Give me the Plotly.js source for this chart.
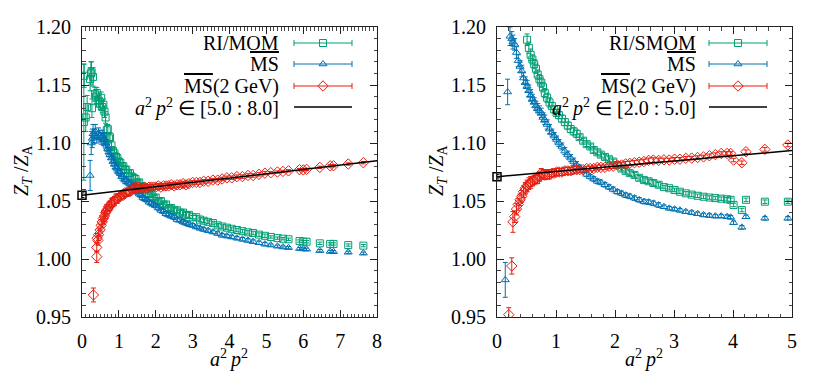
<!DOCTYPE html>
<html>
<head>
<meta charset="utf-8">
<script src="https://cdn.plot.ly/plotly-3.0.1.min.js"></script>
<style>html,body{margin:0;padding:0;background:#fff;}#chart{width:830px;height:375px;}</style>
</head>
<body>
<div id="chart"></div>
<script>
// ---------------- Left panel (RI/MOM) ----------------
const LX = [0.45,0.49,0.52,0.55,0.58,0.61,0.64,0.67,
  0.70,0.73,0.76,0.80,0.84,0.88,0.92,0.96,
  1.00,1.04,1.08,1.12,1.16,1.20,1.25,1.30,1.35,1.40,1.45,
  1.50,1.55,1.60,1.65,1.70,1.76,1.82,1.88,1.94,2.00,2.07,2.14,2.21,2.28,2.35,2.42,2.50,2.58,2.66,2.74,2.82,2.90,
  3.00,3.10,3.20,3.30,3.42,3.55,3.68,3.80,3.93,4.06,4.20,4.35,4.50,4.64,4.80,4.96,
  5.12,5.30,5.45,5.60,5.90,6.00,6.09,6.45,6.73,6.82,7.22,7.63];
const LG = [1.136,1.134,1.139,1.131,1.133,1.127,1.122,1.111,
  1.112,1.104,1.105,1.098,1.093,1.091,1.088,1.087,
  1.084,1.083,1.080,1.080,1.077,1.077,1.074,1.074,1.071,1.070,1.069,
  1.066,1.066,1.063,1.062,1.060,1.059,1.056,1.056,1.053,1.053,1.050,1.050,1.047,1.047,1.044,1.044,1.042,1.042,1.040,1.040,1.038,1.038,
  1.036,1.036,1.034,1.033,1.032,1.031,1.029,1.028,1.027,1.026,1.025,1.024,1.023,1.0224,1.021,1.020,
  1.019,1.018,1.0175,1.017,1.0155,1.015,1.0149,1.0135,1.013,1.013,1.012,1.0115];
const LB = [1.108,1.106,1.104,1.106,1.103,1.104,1.100,1.098,
  1.095,1.092,1.090,1.087,1.084,1.082,1.079,1.078,
  1.075,1.074,1.071,1.071,1.068,1.068,1.066,1.065,1.063,1.062,1.059,
  1.058,1.056,1.055,1.053,1.052,1.051,1.049,1.048,1.047,1.046,1.044,1.042,1.041,1.039,1.038,1.037,1.036,1.034,1.0336,1.032,1.031,1.030,
  1.029,1.0276,1.0265,1.0255,1.0245,1.0233,1.022,1.0205,1.0198,1.019,1.018,1.017,1.016,1.015,1.014,1.0128,
  1.012,1.011,1.0103,1.0098,1.0090,1.0087,1.0084,1.0072,1.0065,1.0063,1.0058,1.005];
const LR = [1.021,1.025,1.029,1.032,1.035,1.037,1.040,1.042,
  1.043,1.045,1.046,1.048,1.049,1.050,1.052,1.052,
  1.053,1.054,1.055,1.055,1.057,1.057,1.058,1.058,1.060,1.061,1.062,
  1.061,1.062,1.061,1.061,1.062,1.061,1.062,1.062,1.062,1.062,1.063,1.062,1.063,1.063,1.063,1.064,1.063,1.064,1.064,1.065,1.064,1.065,
  1.066,1.066,1.066,1.067,1.067,1.068,1.068,1.069,1.070,1.070,1.071,1.071,1.072,1.072,1.073,1.074,
  1.0744,1.075,1.0755,1.076,1.077,1.0768,1.0773,1.079,1.0803,1.0804,1.0819,1.083];
const LE = [0.005,0.005,0.005,0.005,0.005,0.005,0.005,0.005,
  0.004,0.004,0.004,0.004,0.004,0.004,0.004,0.004,
  0.003,0.003,0.003,0.003,0.003,0.003,0.003,0.003,0.003,0.003,0.003,
  0.002,0.002,0.002,0.002,0.002,0.002,0.002,0.002,0.002,0.002,0.002,0.002,0.002,0.002,0.002,0.002,0.002,0.002,0.002,0.002,0.002,0.002,
  0.0015,0.0015,0.0015,0.0015,0.0015,0.0015,0.0015,0.0015,0.0015,0.0015,0.0015,0.0015,0.0015,0.0015,0.0015,0.0015,
  0.001,0.001,0.001,0.001,0.001,0.001,0.001,0.001,0.001,0.001,0.001,0.001];
// low-momentum points of the left panel
const LG0X = [0.05,0.06,0.10,0.14,0.22,0.24,0.26,0.27,0.30,0.35,0.38,0.40];
const LG0Y = [1.118,1.158,1.122,1.131,1.155,1.160,1.161,1.130,1.157,1.142,1.140,1.143];
const LG0E = [0.050,0.010,0.012,0.010,0.010,0.010,0.009,0.008,0.008,0.006,0.006,0.005];
const LB0X = [0.22,0.25,0.28,0.30,0.33,0.36,0.40];
const LB0Y = [1.072,1.100,1.104,1.108,1.106,1.110,1.105];
const LB0E = [0.013,0.010,0.008,0.008,0.006,0.006,0.005];
const LR0X = [0.31,0.40,0.40,0.41,0.43];
const LR0Y = [0.969,1.002,1.010,1.018,1.016];
const LR0E = [0.006,0.005,0.004,0.004,0.004];
// fit (left)
const LFITX = [0, 8];
const LFITY = [1.055, 1.0846];
const LFIT0 = 1.055, LFIT0E = 0.002;

// ---------------- Right panel (RI/SMOM) ----------------
const RX = [0.30,0.33,0.36,0.39,0.42,0.45,0.48,0.51,0.54,0.57,
  0.60,0.63,0.66,0.69,0.72,0.75,0.78,0.81,0.85,0.89,
  0.93,0.97,1.01,1.05,1.10,1.15,1.20,1.25,1.30,1.35,
  1.40,1.46,1.52,1.58,1.64,1.70,1.76,1.83,1.90,1.97,
  2.04,2.11,2.18,2.25,2.33,2.41,2.49,2.57,2.65,2.74,
  2.83,2.92,3.01,3.10,3.20,3.30,3.40,3.50,3.60,3.70,
  3.80,3.90,3.96,4.01,4.15,4.22,4.54,4.93];
const RB = [1.185,1.178,1.171,1.166,1.162,1.156,1.152,1.149,1.145,1.141,
  1.138,1.135,1.132,1.130,1.128,1.126,1.122,1.120,1.116,1.112,
  1.109,1.106,1.103,1.100,1.097,1.093,1.090,1.087,1.084,1.081,
  1.079,1.076,1.073,1.071,1.069,1.067,1.066,1.064,1.062,1.060,
  1.058,1.0566,1.055,1.054,1.0525,1.051,1.0495,1.049,1.048,1.0465,
  1.045,1.0437,1.043,1.042,1.0408,1.040,1.039,1.038,1.0375,1.037,
  1.037,1.0365,1.036,1.0313,1.0273,1.0364,1.0351,1.0351];
const RG = [null,null,null,null,null,null,null,1.189,1.182,1.176,
  1.172,1.168,1.164,1.159,1.155,1.152,1.148,1.143,1.139,1.135,
  1.132,1.129,1.126,1.124,1.121,1.118,1.115,1.112,1.110,1.108,
  1.105,1.102,1.099,1.097,1.094,1.092,1.090,1.088,1.086,1.084,
  1.081,1.078,1.076,1.074,1.0725,1.070,1.068,1.067,1.0655,1.064,
  1.062,1.061,1.0595,1.058,1.0566,1.0555,1.0545,1.0537,1.053,1.0525,
  1.052,1.0515,1.051,1.0466,1.0422,1.051,1.0494,1.0494];
const RR = [1.0365,1.043,1.047,1.051,1.054,1.058,1.061,1.063,1.065,1.066,
  1.067,1.068,1.069,1.069,1.071,1.074,1.073,1.0724,1.073,1.073,
  1.074,1.074,1.075,1.075,1.075,1.076,1.076,1.076,1.077,1.077,
  1.077,1.077,1.078,1.078,1.078,1.079,1.079,1.079,1.080,1.080,
  1.081,1.081,1.082,1.0825,1.083,1.0835,1.084,1.085,1.0853,1.085,
  1.0855,1.0853,1.086,1.086,1.0868,1.087,1.0875,1.088,1.089,1.090,
  1.091,1.091,1.091,1.0853,1.083,1.0925,1.0945,1.0983];
const RE = [0.005,0.005,0.005,0.005,0.005,0.005,0.005,0.005,0.005,0.005,
  0.004,0.004,0.004,0.004,0.004,0.004,0.004,0.004,0.004,0.004,
  0.003,0.003,0.003,0.003,0.003,0.003,0.003,0.003,0.003,0.003,
  0.002,0.002,0.002,0.002,0.002,0.002,0.002,0.002,0.002,0.002,
  0.002,0.002,0.002,0.002,0.002,0.002,0.002,0.002,0.002,0.002,
  0.0015,0.0015,0.0015,0.0015,0.0015,0.0015,0.0015,0.0015,0.0015,0.0015,
  0.0015,0.0015,0.0015,0.0015,0.0015,0.0015,0.0015,0.0015];
const RB0X = [0.14,0.18,0.22,0.25,0.27];
const RB0Y = [0.982,1.144,1.192,1.190,1.187];
const RB0E = [0.015,0.011,0.008,0.006,0.006];
const RR0X = [0.20,0.25,0.27];
const RR0Y = [0.952,0.994,1.032];
const RR0E = [0.006,0.007,0.009];
const RFITX = [0, 5];
const RFITY = [1.071, 1.0935];
const RFIT0 = 1.071, RFIT0E = 0.002;

// legend labels
const LEG_L = ['RI/MOM', '<span style="text-decoration:overline">MS</span>',
  '<span style="text-decoration:overline">MS</span>(2 GeV)',
  '<i>a</i><sup>2</sup>\u2009<i>p</i><sup>2</sup> ∈ [5.0 : 8.0]'];
const LEG_R = ['RI/SMOM', '<span style="text-decoration:overline">MS</span>',
  '<span style="text-decoration:overline">MS</span>(2 GeV)',
  '<i>a</i><sup>2</sup>\u2009<i>p</i><sup>2</sup> ∈ [2.0 : 5.0]'];

const GREEN = '#009e73', BLUE = '#0072b2', RED = '#e51e10';
const FONT = 'Liberation Serif';

function pts(x, y, e, color, symbol, size, xa, ya) {
  return {x: x, y: y, xaxis: xa, yaxis: ya, type: 'scatter', mode: 'markers',
    marker: {symbol: symbol, size: size, color: color, line: {color: color, width: 1}},
    error_y: {type: 'data', array: e, visible: true, color: color, thickness: 1, width: 2.5},
    showlegend: false, hoverinfo: 'skip'};
}
function fit(x, y, x0, y0, e0, xa, ya) {
  return [
    {x: x, y: y, xaxis: xa, yaxis: ya, type: 'scatter', mode: 'lines',
     line: {color: '#000', width: 1.5}, showlegend: false, hoverinfo: 'skip'},
    {x: [x0], y: [y0], xaxis: xa, yaxis: ya, type: 'scatter', mode: 'markers', cliponaxis: false,
     marker: {symbol: 'square-open', size: 8, color: '#000', line: {color: '#000', width: 1.5}},
     error_y: {type: 'data', array: [e0], color: '#000', thickness: 1, width: 2.5},
     showlegend: false, hoverinfo: 'skip'}
  ];
}

const traces = [];
traces.push(pts(LG0X.concat(LX), LG0Y.concat(LG), LG0E.concat(LE), GREEN, 'square-open', 7, 'x', 'y'));
traces.push(pts(LB0X.concat(LX), LB0Y.concat(LB), LB0E.concat(LE), BLUE, 'triangle-up-open', 7, 'x', 'y'));
traces.push(pts(LR0X.concat(LX), LR0Y.concat(LR), LR0E.concat(LE), RED, 'diamond-open', 8, 'x', 'y'));
fit(LFITX, LFITY, 0, LFIT0, LFIT0E, 'x', 'y').forEach(t => traces.push(t));

traces.push(pts(RX, RG, RE, GREEN, 'square-open', 7, 'x2', 'y2'));
traces.push(pts(RB0X.concat(RX), RB0Y.concat(RB), RB0E.concat(RE), BLUE, 'triangle-up-open', 7, 'x2', 'y2'));
traces.push(pts(RR0X.concat(RX), RR0Y.concat(RR), RR0E.concat(RE), RED, 'diamond-open', 8, 'x2', 'y2'));
fit(RFITX, RFITY, 0, RFIT0, RFIT0E, 'x2', 'y2').forEach(t => traces.push(t));

// Legend samples (pixel-coordinate overlay axes x3/y3)
const annotations = [];
function legend(textRight, lineL, lineR, labels) {
  const rows = [43, 64, 86, 107];
  const cols = [GREEN, BLUE, RED];
  const syms = ['square-open', 'triangle-up-open', 'diamond-open'];
  const mid = (lineL + lineR) / 2, half = (lineR - lineL) / 2;
  for (let i = 0; i < 3; i++) {
    traces.push({x: [mid], y: [rows[i]], xaxis: 'x3', yaxis: 'y3', type: 'scatter', mode: 'markers',
      marker: {symbol: syms[i], size: i === 2 ? 8 : 7, color: cols[i], line: {color: cols[i], width: 1}},
      error_x: {type: 'constant', value: half, color: cols[i], thickness: 1, width: 3},
      showlegend: false, hoverinfo: 'skip', cliponaxis: false});
  }
  traces.push({x: [lineL, lineR], y: [rows[3], rows[3]], xaxis: 'x3', yaxis: 'y3', type: 'scatter',
    mode: 'lines', line: {color: '#000', width: 1.5}, showlegend: false, hoverinfo: 'skip'});
  for (let i = 0; i < 4; i++) {
    annotations.push({xref: 'x3', yref: 'y3', x: textRight, y: rows[i], text: labels[i],
      xanchor: 'right', yanchor: 'middle', showarrow: false,
      font: {family: FONT, size: 20, color: '#000'}});
  }
}
legend(281, 294, 352, LEG_L);
legend(698, 709, 767, LEG_R);

// axis titles
const YT = '<i>Z</i><sub><i>T</i></sub> /<i>Z</i><sub>A</sub>';
const XT = '<i>a</i><sup>2</sup>\u2009<i>p</i><sup>2</sup>';
annotations.push({xref: 'x3', yref: 'y3', x: 22, y: 170, text: YT, textangle: -90, showarrow: false,
  xanchor: 'center', yanchor: 'middle', font: {family: FONT, size: 20, color: '#000'}});
annotations.push({xref: 'x3', yref: 'y3', x: 437, y: 170, text: YT, textangle: -90, showarrow: false,
  xanchor: 'center', yanchor: 'middle', font: {family: FONT, size: 20, color: '#000'}});
annotations.push({xref: 'x3', yref: 'y3', x: 229, y: 358, text: XT, showarrow: false,
  xanchor: 'center', yanchor: 'middle', font: {family: FONT, size: 20, color: '#000'}});
annotations.push({xref: 'x3', yref: 'y3', x: 644, y: 358, text: XT, showarrow: false,
  xanchor: 'center', yanchor: 'middle', font: {family: FONT, size: 20, color: '#000'}});

const axBase = {showline: true, linecolor: '#222', linewidth: 1, mirror: 'allticks',
  ticks: 'inside', ticklen: 7, tickwidth: 1, tickcolor: '#222', showgrid: false, zeroline: false,
  automargin: false, fixedrange: true,
  tickfont: {family: FONT, size: 20, color: '#000'}};
function ax(extra, minorDtick) {
  return Object.assign({}, axBase, extra, {
    minor: {ticks: 'inside', ticklen: 3.5, tickwidth: 1, tickcolor: '#444', dtick: minorDtick, showgrid: false}});
}
const yDom = [58 / 375, 348 / 375];
const layout = {
  width: 830, height: 375,
  margin: {l: 0, r: 0, t: 0, b: 0},
  font: {family: FONT, size: 20, color: '#000'},
  paper_bgcolor: '#fff', plot_bgcolor: 'rgba(0,0,0,0)',
  showlegend: false,
  xaxis: ax({domain: [82 / 830, 377 / 830], range: [0, 8], anchor: 'y', tick0: 0, dtick: 1, ticklabelstandoff: 6}, 0.1),
  yaxis: ax({domain: yDom, range: [0.95, 1.20], anchor: 'x', tick0: 0.95, dtick: 0.05, tickformat: '.2f', ticklabelstandoff: 6}, 0.01),
  xaxis2: ax({domain: [497 / 830, 792 / 830], range: [0, 5], anchor: 'y2', tick0: 0, dtick: 1, ticklabelstandoff: 6}, 0.2),
  yaxis2: ax({domain: yDom, range: [0.95, 1.20], anchor: 'x2', tick0: 0.95, dtick: 0.05, tickformat: '.2f', ticklabelstandoff: 6}, 0.01),
  xaxis3: {domain: [0, 1], range: [0, 830], anchor: 'y3', visible: false, fixedrange: true},
  yaxis3: {domain: [0, 1], range: [375, 0], anchor: 'x3', visible: false, fixedrange: true},
  annotations: annotations
};
Plotly.newPlot('chart', traces, layout, {staticPlot: true, displayModeBar: false});
</script>
</body>
</html>
